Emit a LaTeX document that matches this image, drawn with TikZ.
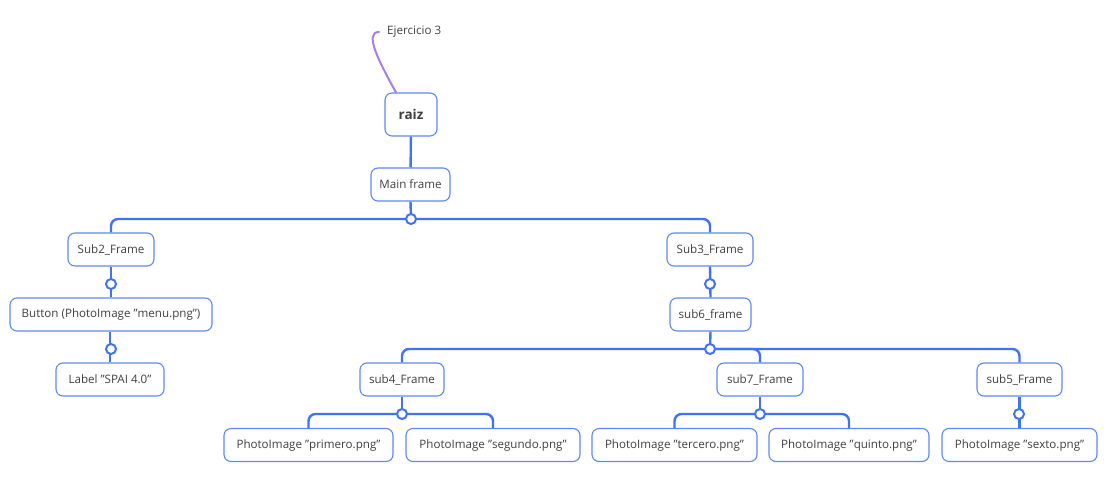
\documentclass[tikz,border=0pt]{standalone}
\usepackage{fontspec}
\setmainfont{Open Sans}
\newcommand\dq{\symbol{"22}}
\begin{document}
\definecolor{link}{HTML}{4073F4}
\definecolor{edge}{HTML}{5F88F6}
\definecolor{ink}{HTML}{404040}
\definecolor{note}{HTML}{A77EEC}
\begin{tikzpicture}[x=1pt,y=-1pt,
  topic/.style={draw=edge,line width=1.1pt,rounded corners=7pt,fill=white,
    inner sep=0pt,minimum height=33pt,text=ink,font=\fontsize{11.6}{13}\selectfont},
  root/.style={topic,minimum height=43pt,font=\fontsize{13.5}{16}\selectfont\bfseries},
  wire/.style={draw=link,line width=2.4pt},
  knob/.style={circle,draw=link,line width=2pt,fill=white,inner sep=0pt,minimum size=10pt}]
\useasboundingbox (0,0) rectangle (1117,497);

% nodes
\node[root,minimum width=52pt] (raiz) at (411,114.5) {raiz};
\node[topic,minimum width=79pt] (main) at (410.5,184.5) {Main frame};
\node[topic,minimum width=86pt] (s2) at (111,249.5) {Sub2\_Frame};
\node[topic,minimum width=202pt] (btn) at (111,314.5) {Button (PhotoImage \dq menu.png\dq)};
\node[topic,minimum width=108pt] (lbl) at (110,379.5) {Label \dq SPAI 4.0\dq};
\node[topic,minimum width=86pt] (s3) at (710,249.5) {Sub3\_Frame};
\node[topic,minimum width=81pt] (s6) at (710.5,314.5) {sub6\_frame};
\node[topic,minimum width=84pt] (s4) at (402,379.5) {sub4\_Frame};
\node[topic,minimum width=86pt] (s7) at (760,379.5) {sub7\_Frame};
\node[topic,minimum width=85pt] (s5) at (1019.5,379.5) {sub5\_Frame};
\node[topic,minimum width=169pt] (p1) at (308.5,445) {PhotoImage \dq primero.png\dq};
\node[topic,minimum width=174pt] (p2) at (493,445) {PhotoImage \dq segundo.png\dq};
\node[topic,minimum width=165pt] (p3) at (674.5,445) {PhotoImage \dq tercero.png\dq};
\node[topic,minimum width=160pt] (p5) at (849,445) {PhotoImage \dq quinto.png\dq};
\node[topic,minimum width=155pt] (p6) at (1019.5,445) {PhotoImage \dq sexto.png\dq};
\node[anchor=west,inner sep=0pt,text=ink,font=\fontsize{11.6}{13}\selectfont] (ej) at (387,32) {Ejercicio 3};

% junction points
\coordinate (j1) at (411,219);
\coordinate (j2) at (111,284);
\coordinate (j3) at (111,349);
\coordinate (j4) at (710,284);
\coordinate (j5) at (710,349);
\coordinate (j6) at (402,414);
\coordinate (j7) at (760,414);
\coordinate (j8) at (1019,414);

% note link
\draw[note,line width=2pt,line cap=round] ([xshift=-15pt]raiz.north) .. controls (378,60) and (364,32) .. ([xshift=-8pt]ej.west);

% connectors
\draw[wire] (raiz) -- (main);
\draw[wire] (main.south) -- (j1);
\draw[wire,rounded corners=7pt] (j1) -| (s2.north);
\draw[wire,rounded corners=7pt] (j1) -| (s3.north);
\draw[wire] (s2.south) -- (btn.north);
\draw[wire] (btn.south -| lbl.north) -- (lbl.north);
\draw[wire] (s3.south) -- (s6.north);
\draw[wire] (s6.south) -- (j5);
\draw[wire,rounded corners=7pt] (j5) -| (s4.north);
\draw[wire,rounded corners=7pt] (j5) -| (s7.north);
\draw[wire,rounded corners=7pt] (j5) -| (s5.north);
\draw[wire] (s4.south) -- (j6);
\draw[wire,rounded corners=7pt] (j6) -| (p1.north);
\draw[wire,rounded corners=7pt] (j6) -| (p2.north);
\draw[wire] (s7.south) -- (j7);
\draw[wire,rounded corners=7pt] (j7) -| (p3.north);
\draw[wire,rounded corners=7pt] (j7) -| (p5.north);
\draw[wire] (s5.south -| p6.north) -- (p6.north);

% junction knobs
\foreach \k in {j1,j2,j3,j4,j5,j6,j7,j8}
  \node[knob] at (\k) {};
\end{tikzpicture}
\end{document}
